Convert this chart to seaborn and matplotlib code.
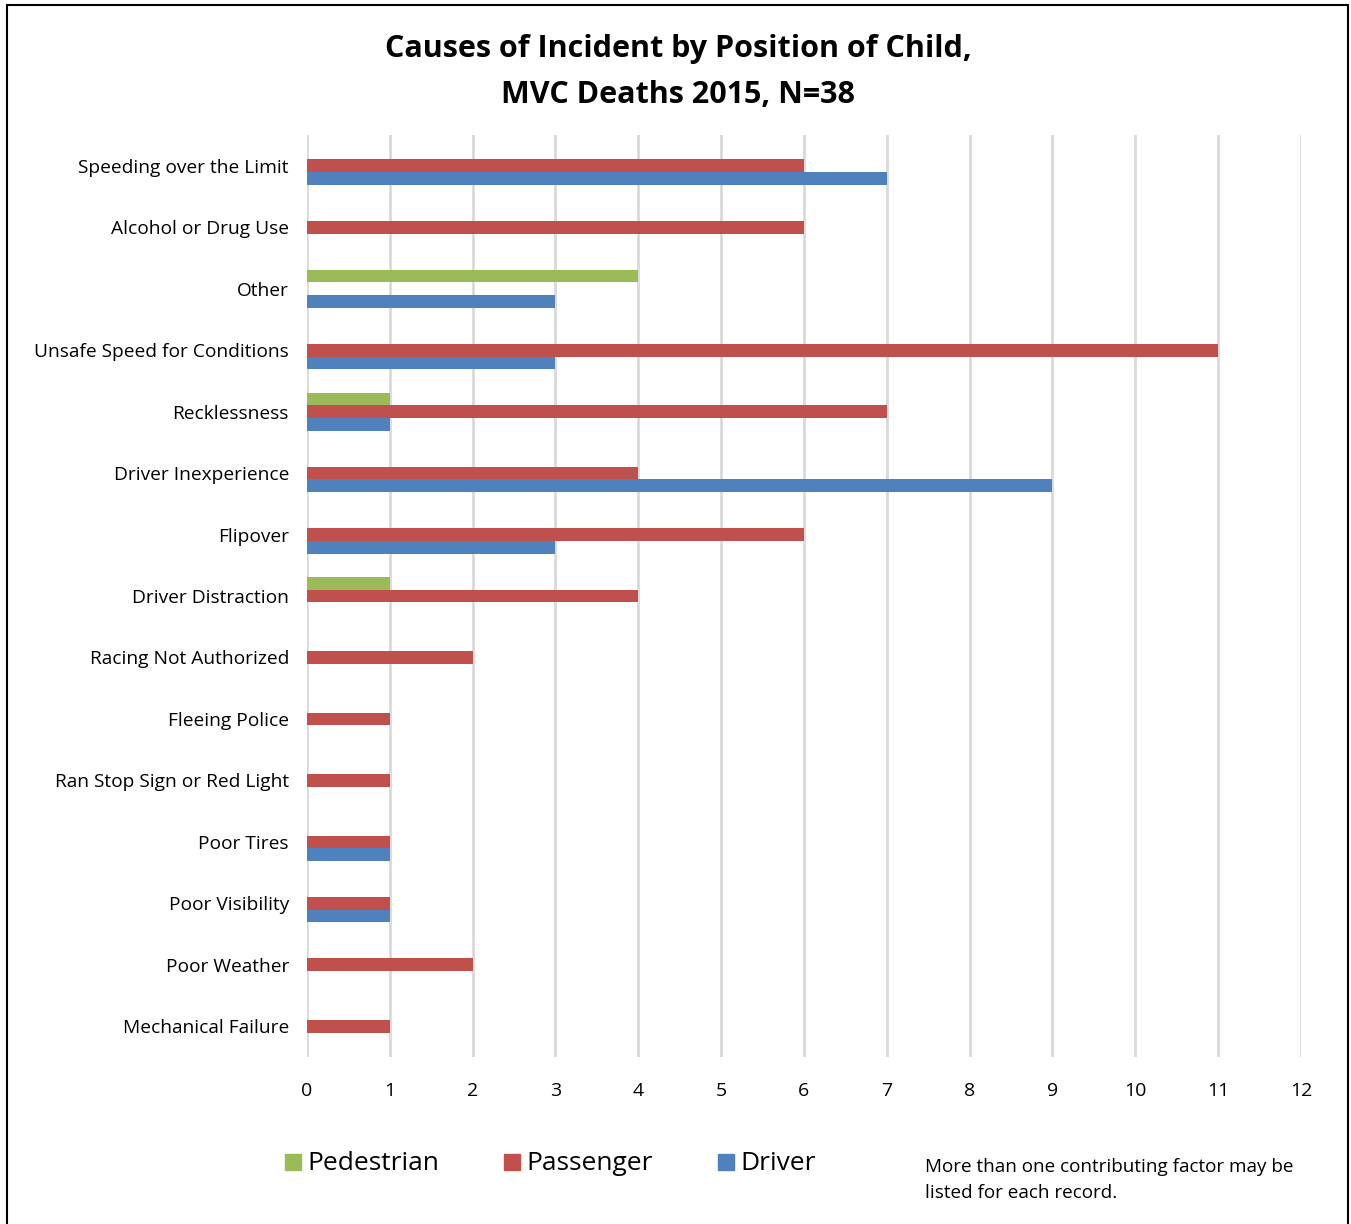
import matplotlib
matplotlib.use("Agg")
import matplotlib.pyplot as plt
import seaborn as sns
import pandas as pd
from matplotlib.patches import Rectangle

categories = ["Speeding over the Limit", "Alcohol or Drug Use", "Other",
              "Unsafe Speed for Conditions", "Recklessness", "Driver Inexperience",
              "Flipover", "Driver Distraction", "Racing Not Authorized",
              "Fleeing Police", "Ran Stop Sign or Red Light", "Poor Tires",
              "Poor Visibility", "Poor Weather", "Mechanical Failure"]
pedestrian = [0, 0, 4, 0, 1, 0, 0, 1, 0, 0, 0, 0, 0, 0, 0]
passenger = [6, 6, 0, 11, 7, 4, 6, 4, 2, 1, 1, 1, 1, 2, 1]
driver = [7, 0, 3, 3, 1, 9, 3, 0, 0, 0, 0, 1, 1, 0, 0]
series = ["Pedestrian", "Passenger", "Driver"]
colors = ["#9BBB59", "#C0504D", "#4F81BD"]
xticks = list(range(0, 13))

rows = []
for i, c in enumerate(categories):
    for s, vals in zip(series, [pedestrian, passenger, driver]):
        rows.append({"cause": c, "position": s, "count": vals[i]})
df = pd.DataFrame(rows)

sns.set_theme(style="white")
plt.rcParams['font.family'] = ['Open Sans', 'DejaVu Sans']
plt.rcParams['text.color'] = 'black'
plt.rcParams['xtick.color'] = 'black'
plt.rcParams['ytick.color'] = 'black'

fig = plt.figure(figsize=(13.51, 12.24), dpi=100)
ax = fig.add_axes([0.2272, 0.1364, 0.7358, 0.7533])

sns.barplot(data=df, y="cause", x="count", hue="position", order=categories,
            hue_order=series, palette=colors, orient="h", width=0.62,
            saturation=1, ax=ax, legend=False, linewidth=0, errorbar=None)

ax.set_xlim(0, 12)
ax.set_ylim(14.5, -0.5)
ax.set_xticks(xticks)
ax.set_xticklabels([str(t) for t in xticks], fontsize=14)
ax.set_xlabel("")
ax.set_ylabel("")
ax.tick_params(axis="y", labelsize=13.8, length=0, pad=13)
ax.tick_params(axis="x", length=0, pad=18)
ax.xaxis.grid(True, color="#D9D9D9", linewidth=2)
ax.set_axisbelow(True)
for sp in ax.spines.values():
    sp.set_visible(False)

fig.text(0.502, 1 - 49 / 1224, "Causes of Incident by Position of Child,", ha="center",
         va="center", fontsize=22, fontweight="bold", color="black")
fig.text(0.502, 1 - 95 / 1224, "MVC Deaths 2015, N=38", ha="center", va="center",
         fontsize=22, fontweight="bold", color="black")

# legend
leg_x = [285, 504, 718]
for x, s, c in zip(leg_x, series, colors):
    fig.patches.append(Rectangle((x / 1351, 1 - 1170 / 1224), 16 / 1351, 16 / 1224,
                                 transform=fig.transFigure, color=c))
    fig.text((x + 22) / 1351, 1 - 1164 / 1224, s, ha="left", va="center", fontsize=19,
             color="black")

fig.text(925 / 1351, 1 - 1167 / 1224, "More than one contributing factor may be",
         ha="left", va="center", fontsize=13.6, color="black")
fig.text(925 / 1351, 1 - 1193 / 1224, "listed for each record.",
         ha="left", va="center", fontsize=13.6, color="black")

fig.patches.append(Rectangle((7 / 1351, -0.01), 1341 / 1351, 1 - 5 / 1224 + 0.01,
                             transform=fig.transFigure, fill=False,
                             edgecolor="black", linewidth=1.5))

fig.savefig("out.png", dpi=100)
